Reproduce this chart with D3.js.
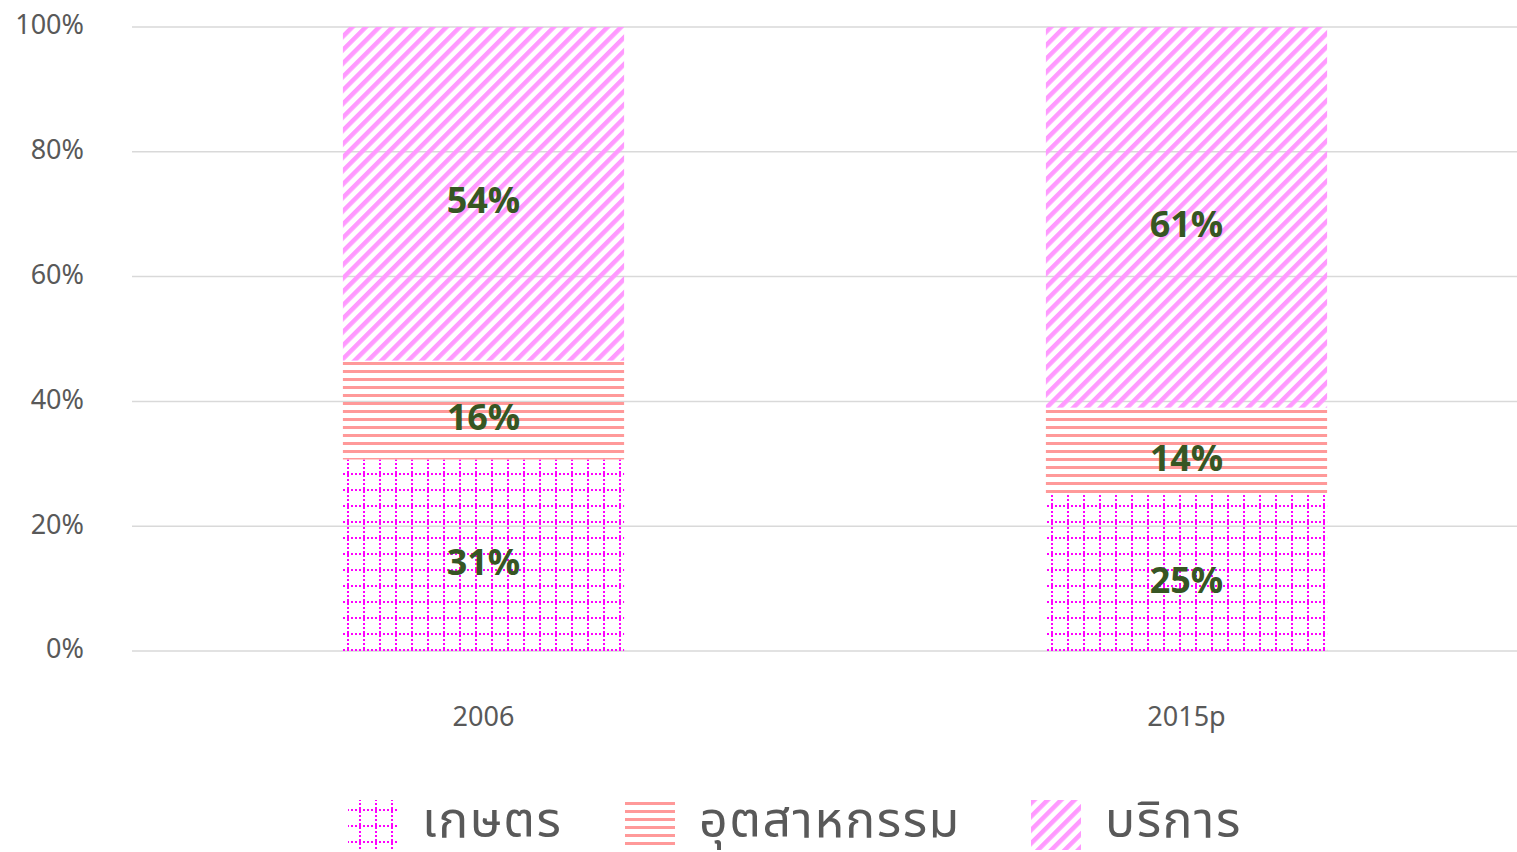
<!DOCTYPE html>
<html>
<head>
<meta charset="utf-8">
<script src="https://d3js.org/d3.v7.min.js"></script>
<style>
body { margin: 0; background: #fff; }
text { font-family: "Noto Sans Thai", "Noto Sans", "DejaVu Sans", sans-serif; }
</style>
</head>
<body>
<svg id="chart" width="1517" height="852"></svg>
<script>
// data
const years = ["2006", "2015p"];
const seriesNames = ["เกษตร", "อุตสาหกรรม", "บริการ"];
const agri = [31, 25];
const industry = [16, 14];
const services = [54, 61];
const yTicks = [0, 0.2, 0.4, 0.6, 0.8, 1];

const svg = d3.select("#chart");
const plotTop = 27, plotBottom = 651, plotLeft = 132;

const rows = years.map((y, i) => ({ year: y, "เกษตร": agri[i], "อุตสาหกรรม": industry[i], "บริการ": services[i] }));
const stacked = d3.stack().keys(seriesNames).offset(d3.stackOffsetExpand)(rows);

const x = d3.scaleBand().domain(years).range([plotLeft, 1538]).paddingInner(0.6).paddingOuter(0.3);
const y = d3.scaleLinear().domain([0, 1]).range([plotBottom, plotTop]);

// patterns
const defs = svg.append("defs");
const pGrid = defs.append("pattern").attr("id", "p0").attr("patternUnits", "userSpaceOnUse")
  .attr("width", 16).attr("height", 16).attr("x", 3).attr("y", 3);
pGrid.append("line").attr("x1", 0).attr("x2", 16).attr("y1", 7).attr("y2", 7)
  .attr("stroke", "#ff00ff").attr("stroke-width", 2).attr("stroke-dasharray", "2,2");
pGrid.append("line").attr("x1", 9).attr("x2", 9).attr("y1", 0).attr("y2", 16)
  .attr("stroke", "#ff00ff").attr("stroke-width", 2).attr("stroke-dasharray", "2,2");

const pHor = defs.append("pattern").attr("id", "p1").attr("patternUnits", "userSpaceOnUse")
  .attr("width", 8).attr("height", 8).attr("y", 2);
pHor.append("rect").attr("x", 0).attr("y", 0).attr("width", 8).attr("height", 3).attr("fill", "#ff9999");

const pDiag = defs.append("pattern").attr("id", "p2").attr("patternUnits", "userSpaceOnUse")
  .attr("width", 9.5).attr("height", 9.5).attr("patternTransform", "rotate(45)");
pDiag.append("rect").attr("x", 0).attr("y", 0).attr("width", 4.5).attr("height", 9.5).attr("fill", "#ff99ff");

// gridlines
svg.append("g").selectAll("line").data(yTicks).join("line")
  .attr("x1", plotLeft).attr("x2", 1538)
  .attr("y1", d => y(d)).attr("y2", d => y(d))
  .attr("stroke", "#d9d9d9").attr("stroke-width", 1.5);

// y labels
svg.append("g").selectAll("text").data(yTicks).join("text")
  .attr("x", 84).attr("y", d => y(d) - 2).attr("dy", "0.35em")
  .attr("text-anchor", "end").attr("fill", "#595959").attr("font-size", 27)
  .text(d => d3.format(".0%")(d));

// bars
const layers = svg.append("g").selectAll("g").data(stacked).join("g")
  .attr("fill", (d, i) => "url(#p" + i + ")");
layers.selectAll("rect").data(d => d).join("rect")
  .attr("x", d => x(d.data.year))
  .attr("width", x.bandwidth())
  .attr("y", d => y(d[1]))
  .attr("height", d => y(d[0]) - y(d[1]));

// value labels
svg.append("g").selectAll("g").data(stacked).join("g")
  .selectAll("text").data(d => d.map(v => ({ v: v, key: d.key }))).join("text")
  .attr("x", d => x(d.v.data.year) + x.bandwidth() / 2)
  .attr("y", d => y((d.v[0] + d.v[1]) / 2) + 7)
  .attr("dy", "0.35em")
  .attr("text-anchor", "middle")
  .attr("fill", "#375623").attr("font-weight", "bold").attr("font-size", 36)
  .text(d => d.v.data[d.key] + "%");

// x labels
svg.append("g").selectAll("text").data(years).join("text")
  .attr("x", d => x(d) + x.bandwidth() / 2).attr("y", 717).attr("dy", "0.35em")
  .attr("text-anchor", "middle").attr("fill", "#595959").attr("font-size", 27)
  .text(d => d);

// legend
const legX = [348, 625, 1031];
const leg = svg.append("g").selectAll("g").data(seriesNames).join("g")
  .attr("transform", (d, i) => "translate(" + legX[i] + ",800)");
leg.append("rect").attr("width", 50).attr("height", 50)
  .attr("fill", (d, i) => "url(#p" + i + ")");
leg.append("text").attr("x", 74).attr("y", 19).attr("dy", "0.35em")
  .attr("fill", "#595959").attr("font-size", 50).attr("letter-spacing", 1.5)
  .text(d => d);
</script>
</body>
</html>
